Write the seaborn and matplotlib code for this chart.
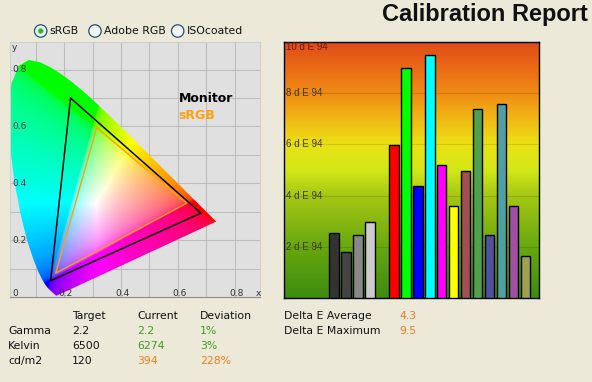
import numpy as np
import pandas as pd
import matplotlib
matplotlib.use("Agg")
import matplotlib.pyplot as plt
from matplotlib.patches import Polygon, Circle
from matplotlib.colors import LinearSegmentedColormap
import seaborn as sns

# ---- data ----
patches = ["Black", "Dark grey", "Grey", "Light grey", " ",
           "Red", "Green", "Blue", "Cyan", "Magenta", "Yellow",
           "Dark red", "Dark green", "Dark blue", "Dark cyan", "Dark magenta", "Dark yellow"]
delta_e = [2.55, 1.78, 2.48, 2.95, np.nan,
           5.98, 9.0, 4.38, 9.5, 5.18, 3.58,
           4.98, 7.38, 2.48, 7.58, 3.58, 1.66]
patch_colors = ["#333333", "#444444", "#888888", "#cccccc", "#ffffff",
                "#ff0000", "#00ff00", "#0000ff", "#00ffff", "#ff00ff", "#ffff00",
                "#a05050", "#50a050", "#5050a0", "#50a0a0", "#a050a0", "#a0a050"]
de_ticks = [2, 4, 6, 8, 10]

# CIE 1931 spectral locus (380-700 nm)
locus_x = [0.1741, 0.1733, 0.1714, 0.1689, 0.1644, 0.1566, 0.1440, 0.1355, 0.1241, 0.1096,
           0.0913, 0.0687, 0.0454, 0.0235, 0.0082, 0.0039, 0.0139, 0.0389, 0.0743, 0.1142,
           0.1547, 0.1929, 0.2296, 0.2658, 0.3016, 0.3373, 0.3731, 0.4087, 0.4441, 0.4788,
           0.5125, 0.5448, 0.5752, 0.6029, 0.6270, 0.6658, 0.6915, 0.7079, 0.7190, 0.7260,
           0.7334, 0.7347]
locus_y = [0.0050, 0.0048, 0.0051, 0.0069, 0.0109, 0.0177, 0.0297, 0.0399, 0.0578, 0.0868,
           0.1327, 0.2007, 0.2950, 0.4127, 0.5384, 0.6548, 0.7502, 0.8120, 0.8338, 0.8262,
           0.8059, 0.7816, 0.7543, 0.7243, 0.6923, 0.6589, 0.6245, 0.5896, 0.5547, 0.5202,
           0.4866, 0.4544, 0.4242, 0.3965, 0.3725, 0.3340, 0.3083, 0.2920, 0.2809, 0.2740,
           0.2666, 0.2653]

monitor_x = [0.222, 0.681, 0.152]
monitor_y = [0.700, 0.295, 0.057]
srgb_x = [0.314, 0.631, 0.170]
srgb_y = [0.596, 0.330, 0.084]

table_cols = ["Target", "Current", "Deviation"]
table_rows = ["Gamma", "Kelvin", "cd/m2"]
target = ["2.2", "6500", "120"]
current = ["2.2", "6274", "394"]
deviation = ["1%", "3%", "228%"]
status = ["ok", "ok", "bad"]
de_labels = ["Delta E Average", "Delta E Maximum"]
de_values = ["4.3", "9.5"]
gamuts = ["sRGB", "Adobe RGB", "ISOcoated"]

# ---- style ----
sns.set_style("white")
plt.rcParams["font.family"] = ["DejaVu Sans"]
bg = "#ece9d8"
green = "#3f9c1c"
orange = "#f47c1c"

fig = plt.figure(figsize=(5.92, 3.82), dpi=100, facecolor=bg)
W, H = 592, 382

# ---- chromaticity diagram ----
ax = fig.add_axes([10 / W, 1 - 297 / H, 250 / W, 255 / H])
ax.set_facecolor("#e0e0e0")
ax.set_xlim(0.009, 0.889)
ax.set_ylim(0.0, 0.897)
ax.set_xticks(np.arange(0.1, 0.85, 0.1))
ax.set_yticks(np.arange(0.1, 0.85, 0.1))
ax.grid(True, color="#bdbdbd", linewidth=0.8)
ax.set_axisbelow(True)
ax.tick_params(length=0, labelbottom=False, labelleft=False)
for s in ["top", "left", "right"]:
    ax.spines[s].set_color("#d0d0d0")
ax.spines["bottom"].set_color("#8c8c8c")

gx = np.linspace(0.0, 0.9, 450)
gy = np.linspace(0.002, 0.9, 450)
X, Y = np.meshgrid(gx, gy)
Xc, Yc, Zc = X / Y, np.ones_like(X), (1 - X - Y) / Y
r = 3.2406 * Xc - 1.5372 * Yc - 0.4986 * Zc
g = -0.9689 * Xc + 1.8758 * Yc + 0.0415 * Zc
b = 0.0557 * Xc - 0.2040 * Yc + 1.0570 * Zc
rgb = np.clip(np.dstack([r, g, b]), 0, None)
rgb = rgb / (rgb.max(axis=2, keepdims=True) + 1e-9)
rgb = np.clip(rgb, 0, 1) ** 0.3
im = ax.imshow(rgb, origin="lower", extent=[0.0, 0.9, 0.002, 0.9], aspect="auto", zorder=1)
horseshoe = Polygon(np.column_stack([locus_x, locus_y]), closed=True,
                    facecolor="none", edgecolor="none", transform=ax.transData)
ax.add_patch(horseshoe)
im.set_clip_path(horseshoe)

ax.plot(monitor_x + monitor_x[:1], monitor_y + monitor_y[:1], color="black", lw=1.1, zorder=3)
ax.plot(srgb_x + srgb_x[:1], srgb_y + srgb_y[:1], color="#ffa010", lw=1.0, zorder=3)

lbl = dict(fontsize=6.5, color="#333333", zorder=4)
for v in [0.2, 0.4, 0.6, 0.8]:
    ax.text(0.016, v, f"{v:.1f}", va="center", ha="left", **lbl)
    ax.text(v + 0.005, 0.014, f"{v:.1f}", va="center", ha="center", **lbl)
ax.text(0.016, 0.014, "0", va="center", ha="left", **lbl)
ax.text(0.882, 0.014, "x", va="center", ha="center", **lbl)
ax.text(0.016, 0.877, "y", va="center", ha="left", **lbl)
ax.text(0.602, 0.697, "Monitor", fontsize=9, fontweight="bold", color="black", va="center")
ax.text(0.602, 0.637, "sRGB", fontsize=9, fontweight="bold", color="#ffa010", va="center")

# ---- delta E bar chart ----
ax2 = fig.add_axes([284 / W, 1 - 298 / H, 255 / W, 256 / H])
df = pd.DataFrame({"patch": patches, "dE": delta_e})
sns.barplot(data=df, x="patch", y="dE", hue="patch", order=patches, hue_order=patches,
            palette=dict(zip(patches, patch_colors)), width=0.78, saturation=1,
            edgecolor="black", linewidth=1.0, legend=False, ax=ax2, zorder=3)
ax2.set_xlim(-4.17, 17.11)
ax2.set_ylim(0, 10)
grad = LinearSegmentedColormap.from_list("de", [
    (0.0, "#3c8c0e"), (0.2, "#68a810"), (0.4, "#a6c814"), (0.5, "#d2e818"),
    (0.6, "#ece214"), (0.7, "#f0b816"), (0.8, "#f08c14"), (0.9, "#ea6a16"), (1.0, "#e04c18")])
ax2.imshow(np.linspace(0, 1, 256).reshape(-1, 1), cmap=grad, origin="lower",
           extent=[-4.17, 17.11, 0, 10], aspect="auto", zorder=0)
for v in de_ticks[:-1]:
    ax2.axhline(v, color="#000000", alpha=0.12, lw=0.8, zorder=1)
tr = ax2.get_yaxis_transform()
for v in de_ticks:
    ax2.text(0.008, v if v < 10 else 9.8, f"{v} d E 94", transform=tr, fontsize=7,
             color="#6a1a0a" if v == 10 else "#3a3a10", va="center", ha="left",
             family="Liberation Sans", zorder=4)
ax2.set_xlabel("")
ax2.set_ylabel("")
ax2.set_xticks([])
ax2.set_yticks([])
for s in ax2.spines.values():
    s.set_color("black")
    s.set_linewidth(1.0)

# ---- overlay texts ----
ov = fig.add_axes([0, 0, 1, 1])
ov.set_xlim(0, W)
ov.set_ylim(H, 0)
ov.axis("off")

ov.text(588, 14, "Calibration Report", fontsize=17, fontweight="bold",
        family="Liberation Sans", ha="right", va="center", color="#111111")

radio_x = [40.7, 95, 177.7]
for i, (cx, name) in enumerate(zip(radio_x, gamuts)):
    ov.add_patch(Circle((cx, 31), 6.2, facecolor="#f4f4f0", edgecolor="#1c5180", lw=0.9))
    if i == 0:
        ov.add_patch(Circle((cx, 31), 2.6, facecolor="#2fb52f", edgecolor="#6fd86f", lw=0.5))
    ov.text(cx + 9, 31, name, fontsize=7.8, va="center", ha="left", color="#111111")

tfont = dict(fontsize=7.8, va="center", ha="left")
col_x = [72, 137, 200]
for cx, name in zip(col_x, table_cols):
    ov.text(cx, 316, name, color="#111111", **tfont)
for i, name in enumerate(table_rows):
    yy = 331 + 15 * i
    c = green if status[i] == "ok" else orange
    ov.text(8, yy, name, color="#111111", **tfont)
    ov.text(col_x[0], yy, target[i], color="#111111", **tfont)
    ov.text(col_x[1], yy, current[i], color=c, **tfont)
    ov.text(col_x[2], yy, deviation[i], color=c, **tfont)
for i, name in enumerate(de_labels):
    yy = 316 + 15 * i
    ov.text(284, yy, name, color="#111111", **tfont)
    ov.text(399, yy, de_values[i], color=orange, **tfont)

fig.savefig("out.png", dpi=100, facecolor=bg)
